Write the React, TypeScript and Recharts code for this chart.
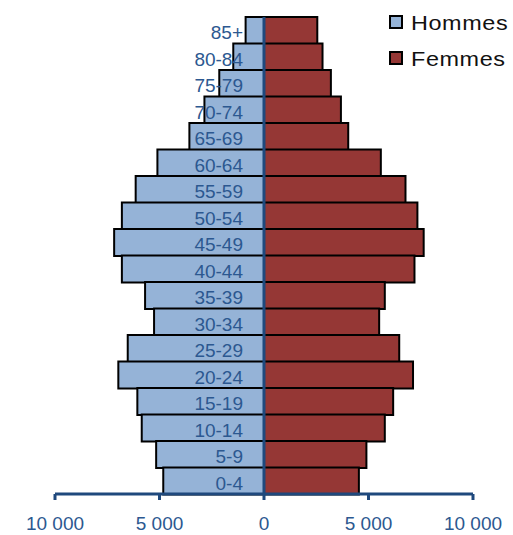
import { BarChart, Bar, XAxis, YAxis, ReferenceLine, LabelList } from "recharts";

const ageGroups = [
  "85+", "80-84", "75-79", "70-74", "65-69", "60-64", "55-59", "50-54", "45-49",
  "40-44", "35-39", "30-34", "25-29", "20-24", "15-19", "10-14", "5-9", "0-4",
];
const hommes = [
  880, 1470, 2140, 2850, 3570, 5100, 6140, 6800, 7170,
  6800, 5690, 5260, 6520, 6970, 6060, 5850, 5160, 4820,
];
const femmes = [
  2550, 2800, 3200, 3680, 4030, 5590, 6770, 7340, 7640,
  7200, 5780, 5510, 6470, 7130, 6180, 5780, 4900, 4540,
];
const xTicks = [-10000, -5000, 0, 5000, 10000];

const data = ageGroups.map((age, i) => ({
  age,
  hommes: -hommes[i],
  femmes: femmes[i],
}));

const AXIS_BLUE = "#1F497D";
const LABEL_BLUE = "#2C5890";
const FONT = "'Liberation Sans', Arial, sans-serif";

const fmt = (v: number) =>
  Math.abs(v).toString().replace(/\B(?=(\d{3})+(?!\d))/g, " ");

const AgeLabel = (props: any) => {
  const { x, y, width, height, value } = props;
  const zero = Math.max(x, x + width);
  return (
    <text
      x={zero - 21}
      y={y + height / 2 + 2}
      textAnchor="end"
      dominantBaseline="central"
      fill={LABEL_BLUE}
      fontSize={19}
      fontFamily={FONT}
    >
      {value}
    </text>
  );
};

const legendItems = [
  { name: "Hommes", color: "#95B3D7" },
  { name: "Femmes", color: "#953735" },
];

export default function App() {
  return (
    <div style={{ position: "absolute", left: 0, top: 0, width: 513, height: 535, background: "#fff" }}>
      <BarChart
        width={513}
        height={535}
        data={data}
        layout="vertical"
        stackOffset="sign"
        barCategoryGap={0}
        margin={{ top: 17, right: 40, left: 55, bottom: 11 }}
      >
        <XAxis
          type="number"
          domain={[-10000, 10000]}
          ticks={xTicks}
          tickFormatter={fmt}
          stroke={AXIS_BLUE}
          strokeWidth={3}
          tickSize={6}
          tickMargin={17}
          height={30}
          tick={{ fill: LABEL_BLUE, fontSize: 19, fontFamily: FONT }}
        />
        <YAxis type="category" dataKey="age" hide />
        <Bar dataKey="hommes" stackId="a" fill="#95B3D7" stroke="#000" strokeWidth={2} isAnimationActive={false}>
          <LabelList dataKey="age" content={AgeLabel} />
        </Bar>
        <Bar dataKey="femmes" stackId="a" fill="#953735" stroke="#000" strokeWidth={2} isAnimationActive={false} />
        <ReferenceLine x={0} stroke={AXIS_BLUE} strokeWidth={3} />
      </BarChart>
      <div
        style={{
          position: "absolute",
          left: 389,
          top: 5,
          fontFamily: FONT,
          fontSize: 19.5,
          color: "#111",
        }}
      >
        {legendItems.map((item) => (
          <div key={item.name} style={{ display: "flex", alignItems: "center", height: 36 }}>
            <span
              style={{
                display: "inline-block",
                width: 10,
                height: 10,
                background: item.color,
                border: "2.5px solid #000",
                marginRight: 8,
                marginTop: -3,
              }}
            />
            <span
              style={{
                display: "inline-block",
                transform: "scaleX(1.2)",
                transformOrigin: "left center",
                letterSpacing: 0.5,
              }}
            >
              {item.name}
            </span>
          </div>
        ))}
      </div>
    </div>
  );
}
